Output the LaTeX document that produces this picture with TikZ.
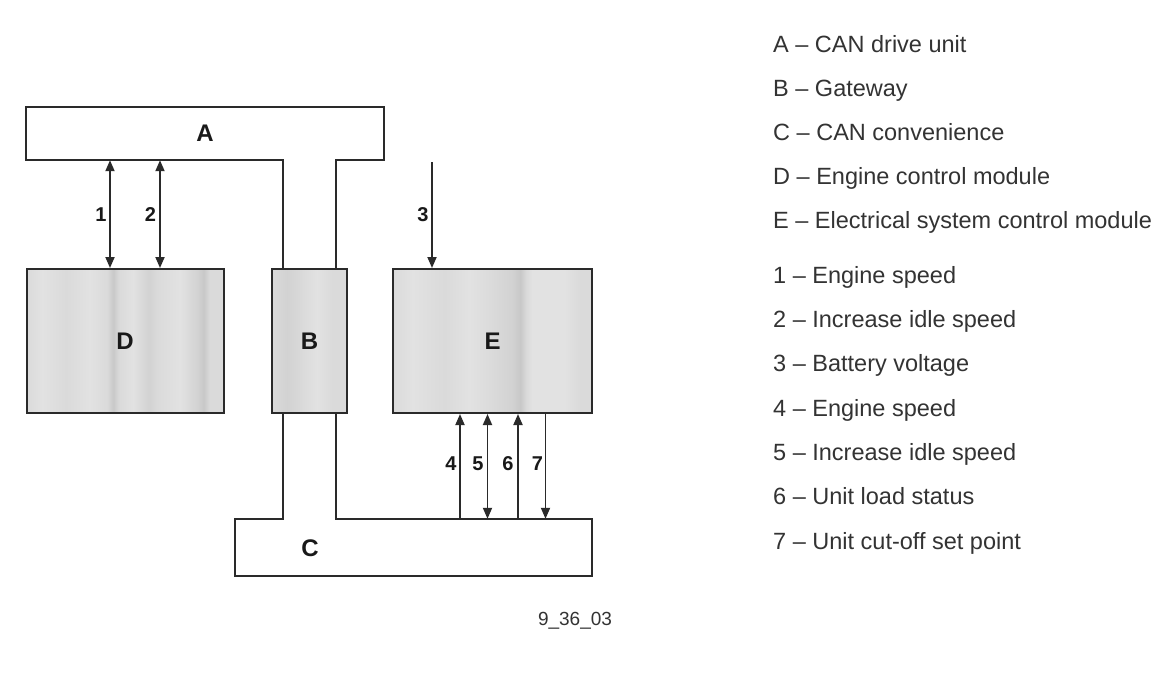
\documentclass[tikz,border=0pt]{standalone}
\usepackage{fontspec}
\setmainfont{Liberation Sans}
\usetikzlibrary{arrows.meta}
\definecolor{boxfill}{HTML}{DADADA}
\definecolor{gzero}{HTML}{DADADA}
\definecolor{glight}{HTML}{E2E2E2}
\definecolor{gmid}{HTML}{D2D2D2}
\definecolor{gdark}{HTML}{C8C8C8}
\definecolor{linecol}{HTML}{2A2A2A}
\definecolor{txtcol}{HTML}{333333}
\pgfdeclarehorizontalshading{streakD}{100bp}{color(0bp)=(gzero); color(25bp)=(gzero);
  color(29bp)=(glight); color(35bp)=(gzero); color(41bp)=(glight); color(45.5bp)=(gzero);
  color(47bp)=(gdark); color(48.5bp)=(gzero); color(52bp)=(glight); color(56bp)=(gmid);
  color(58bp)=(gzero); color(64bp)=(glight); color(68.5bp)=(gmid); color(70bp)=(gdark);
  color(71.5bp)=(gzero); color(75bp)=(gzero); color(100bp)=(gzero)}
\pgfdeclarehorizontalshading{streakB}{100bp}{color(0bp)=(gzero); color(25bp)=(gzero);
  color(35bp)=(gmid); color(45bp)=(gzero); color(55bp)=(glight); color(65bp)=(gzero);
  color(75bp)=(gzero); color(100bp)=(gzero)}
\pgfdeclarehorizontalshading{streakE}{100bp}{color(0bp)=(gzero); color(25bp)=(gzero);
  color(30bp)=(glight); color(38bp)=(gzero); color(44bp)=(glight); color(50bp)=(gzero);
  color(55bp)=(gmid); color(57bp)=(gdark); color(58.5bp)=(gzero); color(60bp)=(glight);
  color(68bp)=(glight); color(72bp)=(gzero); color(75bp)=(gzero); color(100bp)=(gzero)}
\tikzset{
  unitbox/.style={draw=linecol, line width=2pt, fill=boxfill, rectangle, inner sep=0pt,
    font=\fontsize{24}{26}\selectfont\bfseries, text=black!90},
  busbox/.style={draw=none, rectangle, inner sep=0pt},
  busline/.style={draw=linecol, line width=2pt, line join=miter},
  tipd/.tip={Triangle[length=11pt,width=9pt]},
  sig/.style={draw=linecol, line width=1.8pt, arrows={-tipd}},
  sigboth/.style={draw=linecol, line width=1.8pt, arrows={tipd-tipd}},
  numlab/.style={font=\fontsize{20}{22}\selectfont\bfseries, text=black!90, inner sep=0pt},
  buslab/.style={font=\fontsize{24}{26}\selectfont\bfseries, text=black!90, inner sep=0pt},
  legend/.style={anchor=base west, inner sep=0pt, font=\fontsize{23.5}{26}\selectfont, text=txtcol},
  caption/.style={anchor=base, inner sep=0pt, font=\fontsize{19}{21}\selectfont, text=txtcol}
}
\begin{document}
\begin{tikzpicture}[x=1pt,y=-1pt]
\useasboundingbox[fill=white] (0,0) rectangle (1156,686);

% bus A and C (drawn as outlines with stems)
\node[busbox, minimum width=358pt, minimum height=53pt] (A) at (205,133.5) {};
\node[buslab] (Alab) at (A.center) {A};
\node[busbox, minimum width=357pt, minimum height=57pt] (C) at (413.5,547.5) {};
\node[buslab] (Clab) at (310,548) {C};

% modules
\node[unitbox, shading=streakD, minimum width=197pt, minimum height=144pt] (D) at (125,341) {D};
\node[unitbox, shading=streakB, minimum width=75pt, minimum height=144pt] (B) at (309.5,341) {B};
\node[unitbox, shading=streakE, minimum width=199pt, minimum height=144pt] (E) at (492.5,341) {E};

% stem x positions
\coordinate (sl) at (282.5,0);
\coordinate (sr) at (336,0);

\draw[busline] (sl |- B.north) -- (sl |- A.south) -- (A.south west) -- (A.north west)
  -- (A.north east) -- (A.south east) -- (sr |- A.south) -- (sr |- B.north);
\draw[busline] (sl |- B.south) -- (sl |- C.north) -- (C.north west) -- (C.south west)
  -- (C.south east) -- (C.north east) -- (sr |- C.north) -- (sr |- B.south);

% signal x positions
\coordinate (x1) at (110,0);
\coordinate (x2) at (160,0);
\coordinate (x3) at (432,162);
\coordinate (x4) at (460,0);
\coordinate (x5) at (487.5,0);
\coordinate (x6) at (518,0);
\coordinate (x7) at (545.5,0);

\draw[sigboth] (x1 |- A.south) -- (x1 |- D.north);
\draw[sigboth] (x2 |- A.south) -- (x2 |- D.north);
\draw[sig] (x3) -- (x3 |- E.north);
\draw[sig] (x4 |- C.north) -- (x4 |- E.south);
\draw[sigboth] (x5 |- C.north) -- (x5 |- E.south);
\draw[sig] (x6 |- C.north) -- (x6 |- E.south);
\draw[sig] (x7 |- E.south) -- (x7 |- C.north);

\node[numlab] (n1) at (101,215) {1};
\node[numlab] (n2) at (150.5,215) {2};
\node[numlab] (n3) at (423,215) {3};
\node[numlab] (n4) at (451,464) {4};
\node[numlab] (n5) at (478,464) {5};
\node[numlab] (n6) at (508,464) {6};
\node[numlab] (n7) at (537.5,464) {7};

% caption
\node[caption] (cap) at (575,625.5) {9\_36\_03};

% legend
\node[legend] (lA) at (773,52) {A – CAN drive unit};
\node[legend] (lB) at (773,96) {B – Gateway};
\node[legend] (lC) at (773,140) {C – CAN convenience};
\node[legend] (lD) at (773,184) {D – Engine control module};
\node[legend] (lE) at (773,228) {E – Electrical system control module};
\node[legend] (l1) at (773,283) {1 – Engine speed};
\node[legend] (l2) at (773,327.3) {2 – Increase idle speed};
\node[legend] (l3) at (773,371.7) {3 – Battery voltage};
\node[legend] (l4) at (773,416) {4 – Engine speed};
\node[legend] (l5) at (773,460.3) {5 – Increase idle speed};
\node[legend] (l6) at (773,504.7) {6 – Unit load status};
\node[legend] (l7) at (773,549) {7 – Unit cut-off set point};
\end{tikzpicture}
\end{document}
